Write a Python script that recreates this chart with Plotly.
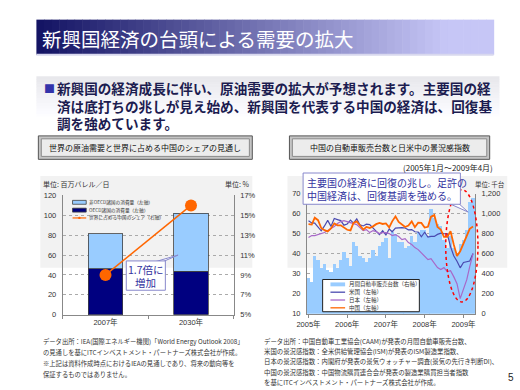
import plotly.graph_objects as go
import pandas as pd

W, H = 520, 390
JP = "Noto Sans CJK JP"
SANS = "Liberation Sans, Noto Sans CJK JP"


def px(x):
    return x / W


def py(y):
    return 1 - y / H


# ---------------- data: left chart ----------------
oil_categories = ["2007年", "2030年"]
oecd_demand = [46.2, 43.9]          # million barrels / day
non_oecd_demand = [35.1, 58.1]      # million barrels / day
china_share = [9.0, 16.0]           # %
oil_names = ["非OECD諸国の消費量（左軸）", "OECD諸国の消費量（左軸）", "世界に占める中国のシェア（右軸）"]
oil_left_ticks = [0, 20, 40, 60, 80, 100, 120]
oil_right_ticks = [5, 7, 9, 11, 13, 15, 17]

# ---------------- data: right chart ----------------
month_start = "2005-01-01"
china_auto_sales = [          # thousand units (right axis)
    360, 320, 580, 540, 460, 500, 440, 420, 500, 460, 540, 620,
    560, 480, 720, 680, 580, 560, 520, 560, 640, 580, 680, 720,
    760, 560, 820, 800, 720, 720, 660, 680, 780, 720, 820, 840,
    840, 780, 1050, 960, 900, 880, 740, 660, 780, 660, 600, 700,
    740, 840, 1120, 1160,
]
us_ism = [
    56.4, 55.3, 55.2, 53.3, 51.4, 53.8, 56.6, 53.6, 57.5, 57.0, 56.5, 54.2,
    54.8, 56.7, 55.2, 57.3, 54.4, 53.8, 54.7, 54.5, 52.9, 51.2, 49.5, 51.4,
    49.3, 52.3, 50.9, 52.7, 53.0, 53.0, 52.8, 51.9, 52.0, 50.9, 50.8, 48.4,
    50.7, 48.3, 48.6, 48.6, 49.6, 50.2, 50.0, 49.9, 43.5, 38.9, 36.2, 32.9,
    35.6, 35.8, 36.3, 40.1,
]
japan_watcher = [
    48.0, 49.0, 49.0, 49.5, 50.0, 50.5, 51.5, 52.5, 53.5, 55.0, 56.0, 56.5,
    56.0, 55.5, 55.0, 54.5, 53.0, 51.5, 52.0, 50.5, 51.5, 51.0, 50.0, 50.5,
    50.5, 50.0, 49.0, 49.5, 48.5, 47.0, 47.5, 45.5, 44.5, 43.0, 42.0, 40.5,
    38.5, 37.0, 37.5, 35.5, 33.0, 32.0, 33.0, 31.0, 31.5, 28.5, 25.0, 17.5,
    22.0, 27.0, 33.5, 40.0,
]
china_pmi = [
    54.7, 54.5, 57.9, 56.7, 52.8, 51.7, 51.1, 52.6, 55.1, 54.1, 54.1, 53.0,
    51.9, 51.6, 55.3, 56.1, 54.3, 52.0, 53.3, 52.8, 53.6, 54.7, 55.3, 54.8,
    55.1, 53.1, 56.1, 58.6, 55.8, 54.5, 53.3, 54.0, 56.1, 53.2, 55.4, 55.3,
    53.0, 53.4, 58.4, 59.2, 53.3, 52.0, 48.4, 48.4, 51.2, 44.6, 38.8, 41.2,
    45.3, 49.0, 52.4, 53.5,
]
auto_names = ["月間自動車販売台数（右軸）", "米国（左軸）", "日本（左軸）", "中国（左軸）"]
year_ticks = ["2005-01-01", "2006-01-01", "2007-01-01", "2008-01-01", "2009-01-01"]
year_labels = ["2005年", "2006年", "2007年", "2008年", "2009年"]
auto_left_ticks = [10, 20, 30, 40, 50, 60, 70]
auto_right_ticks = [0, 200, 400, 600, 800, 1000, 1200]

months = pd.date_range(month_start, periods=len(china_auto_sales), freq="MS")

# ---------------- colours ----------------
C_LIGHT = "#99ccff"
C_NAVY = "#000080"
C_ORANGE = "#ff6600"
C_US = "#4a4ab0"
C_JP = "#a868c8"
C_CALLOUT = "#3333a0"

fig = go.Figure()

# left chart traces
fig.add_trace(go.Bar(x=oil_categories, y=oecd_demand, name=oil_names[1], width=0.4,
                     marker=dict(color=C_NAVY, line=dict(color="#404040", width=0.8)),
                     xaxis="x", yaxis="y", showlegend=False))
fig.add_trace(go.Bar(x=oil_categories, y=non_oecd_demand, name=oil_names[0], width=0.4,
                     marker=dict(color=C_LIGHT, line=dict(color="#404040", width=0.8)),
                     xaxis="x", yaxis="y", showlegend=False))
fig.add_trace(go.Scatter(x=oil_categories, y=china_share, name=oil_names[2], mode="lines+markers",
                         line=dict(color=C_ORANGE, width=1.5), marker=dict(color=C_ORANGE, size=12),
                         xaxis="x", yaxis="y2", showlegend=False))

# right chart traces
fig.add_trace(go.Bar(x=months, y=china_auto_sales, name=auto_names[0], width=31 * 24 * 3600 * 1000,
                     marker=dict(color=C_LIGHT, line=dict(width=0)),
                     xaxis="x2", yaxis="y3", showlegend=False))
fig.add_trace(go.Scatter(x=months, y=us_ism, name=auto_names[1], mode="lines",
                         line=dict(color=C_US, width=1.2), xaxis="x2", yaxis="y4", showlegend=False))
fig.add_trace(go.Scatter(x=months, y=japan_watcher, name=auto_names[2], mode="lines",
                         line=dict(color=C_JP, width=1.2), xaxis="x2", yaxis="y4", showlegend=False))
fig.add_trace(go.Scatter(x=months, y=china_pmi, name=auto_names[3], mode="lines",
                         line=dict(color=C_ORANGE, width=1.8), xaxis="x2", yaxis="y4", showlegend=False))

tickfont = dict(family=SANS, size=7.5, color="#333333")
axcol = "#888888"

fig.update_layout(
    width=W, height=H, margin=dict(l=0, r=0, t=0, b=0),
    paper_bgcolor="white", plot_bgcolor="rgba(0,0,0,0)",
    barmode="stack", showlegend=False,
    xaxis=dict(domain=[px(53), px(228)], anchor="y", type="category", range=[-0.5, 1.5],
               showline=True, linecolor=axcol, ticks="outside", tickson="boundaries", ticklen=3,
               tickcolor=axcol, tickfont=tickfont, fixedrange=True),
    yaxis=dict(domain=[py(318), py(196)], anchor="x", range=[0, 120], tickvals=oil_left_ticks,
               showgrid=True, gridcolor="#aaaaaa", griddash="dot", gridwidth=1, zeroline=False,
               showline=True, linecolor=axcol, tickfont=tickfont, ticks="", ticklabelstandoff=4),
    yaxis2=dict(overlaying="y", side="right", anchor="x", range=[5, 17], tickvals=oil_right_ticks,
                ticktext=[f"{v}%" for v in oil_right_ticks], showgrid=False, zeroline=False,
                showline=True, linecolor=axcol, tickfont=tickfont, ticklabelstandoff=4),
    xaxis2=dict(domain=[px(303), px(475)], anchor="y3", type="date",
                range=["2004-12-18", "2009-04-20"], tickvals=year_ticks, ticktext=year_labels,
                showline=True, linecolor=axcol, ticks="outside", ticklen=3, tickcolor=axcol,
                tickfont=tickfont, showgrid=False),
    yaxis3=dict(domain=[py(317), py(194)], anchor="x2", side="right", range=[0, 1200],
                tickvals=auto_right_ticks, tickformat=",d", showgrid=False, zeroline=False,
                showline=True, linecolor=axcol, tickfont=tickfont, ticklabelstandoff=4),
    yaxis4=dict(overlaying="y3", anchor="x2", side="left", range=[10, 70], tickvals=auto_left_ticks,
                showgrid=True, gridcolor="#aaaaaa", griddash="dot", zeroline=False,
                showline=True, linecolor=axcol, tickfont=tickfont, ticklabelstandoff=4),
)

shapes = []
annotations = []


def rect(x0, y0, x1, y1, fill, line=None, lw=0, layer="above", dash=None):
    d = dict(type="rect", xref="paper", yref="paper", x0=px(x0), x1=px(x1), y0=py(y1), y1=py(y0),
             fillcolor=fill, layer=layer, line=dict(width=lw, color=line or fill))
    if dash:
        d["line"]["dash"] = dash
    shapes.append(d)


def text(x, y, s, size, color="#222222", xanchor="left", yanchor="middle", family=JP, align="left"):
    annotations.append(dict(x=px(x), y=py(y), xref="paper", yref="paper", text=s, showarrow=False,
                            xanchor=xanchor, yanchor=yanchor, align=align, borderpad=0,
                            font=dict(family=family, size=size, color=color)))


# title bar gradient
n = 60
x0, x1, xe = 26, 494, 440
for i in range(n):
    a = x0 + (x1 - x0) * i / n
    b = x0 + (x1 - x0) * (i + 1) / n + 0.6
    f = min(1.0, (a - x0) / (xe - x0))
    r = int(20 + (198 - 20) * f)
    g = int(20 + (198 - 20) * f)
    bl = int(100 + (246 - 100) * f)
    rect(a, 16, b, 52, f"rgb({r},{g},{bl})", layer="below")
rect(26, 51, 494, 53, "#d8d8ee", layer="below")
text(31, 35, "新興国経済の台頭による需要の拡大", 19.5, "white")

# bullet background gradient
m = 16
for i in range(m):
    ya = 74 + 44 * i / m
    yb = 74 + 44 * (i + 1) / m + 0.5
    f = i / (m - 1)
    c = int(232 + (255 - 232) * f)
    rect(26, ya, 500, yb, f"rgb({c},{c},{min(255, c + 4)})", layer="below")
text(33, 86, "■", 11, "#3333aa")
bullet_lines = ["新興国の経済成長に伴い、原油需要の拡大が予想されます。主要国の経",
                "済は底打ちの兆しが見え始め、新興国を代表する中国の経済は、回復基",
                "調を強めています。"]
for i, s in enumerate(bullet_lines):
    text(46, 86 + 18 * i, f"<b>{s}</b>", 13.6, "#1c1c50")

# buttons
for (bx0, bx1, label) in [(28, 247, "世界の原油需要と世界に占める中国のシェアの見通し"),
                          (285, 490, "中国の自動車販売台数と日米中の景況感指数")]:
    rect(bx0, 135, bx1, 159, "#c4c4c4", "#555555", 1, layer="below")
    rect(bx0 + 3, 138, bx1 - 3, 156, "#ececec", "#8a8a8a", 1, layer="below")
    text((bx0 + bx1) / 2, 147, label, 8, "#111111", xanchor="center")

# chart panels
rect(30, 176, 247, 270, "#f2f2f2", layer="below")
rect(283, 176, 508, 270, "#f2f2f2", layer="below")

# left chart texts
text(32, 184, "単位: 百万バレル／日", 7, "#333333")
text(246, 184, "単位: %", 7, "#333333", xanchor="right")

# left legend (manual)
rect(63, 201, 77, 205, C_LIGHT, "#404040", 0.8)
text(79, 203, oil_names[0], 4.7, "#333333")
rect(63, 209, 77, 213, C_NAVY, "#404040", 0.8)
text(79, 211, oil_names[1], 4.7, "#333333")
shapes.append(dict(type="line", xref="paper", yref="paper", x0=px(63), x1=px(77), y0=py(219), y1=py(219),
                   line=dict(color=C_ORANGE, width=1.2)))
shapes.append(dict(type="circle", xref="paper", yref="paper", x0=px(68.8), x1=px(71.2), y0=py(220.2),
                   y1=py(217.8), fillcolor=C_ORANGE, line=dict(width=0)))
text(79, 219, oil_names[2], 4.7, "#333333")

# 1.7x callout
shapes.append(dict(type="path", xref="paper", yref="paper",
                   path=f"M {px(147)},{py(264)} L {px(171)},{py(257)} L {px(155)},{py(264)} Z",
                   fillcolor="white", line=dict(color="#8888cc", width=1)))
rect(118, 263, 158, 293, "white", "#8888cc", 1)
text(138, 272, "1.7倍に", 10.5, C_CALLOUT, xanchor="center")
text(138, 285, "増加", 10.5, C_CALLOUT, xanchor="center")

# right chart texts
text(494, 167, "(2005年1月～2009年4月)", 8, "#222222", xanchor="right")
text(507, 184, "単位: 千台", 6.5, "#333333", xanchor="right")

# right legend (manual)
rect(319, 282, 418, 315, "white", "#222222", 1)
rect(327, 285, 342, 289, C_LIGHT)
text(345, 287, auto_names[0], 5.5, "#333333")
for yy, col, nm in [(295, C_US, auto_names[1]), (303, C_JP, auto_names[2]), (311, C_ORANGE, auto_names[3])]:
    shapes.append(dict(type="line", xref="paper", yref="paper", x0=px(327), x1=px(342), y0=py(yy), y1=py(yy),
                       line=dict(color=col, width=1.3)))
    text(345, yy, nm, 5.5, "#333333")

# red ellipse
shapes.append(dict(type="circle", xref="paper", yref="paper", x0=px(445), x1=px(478), y0=py(305), y1=py(190),
                   line=dict(color="#ff0000", width=1.5, dash="dot")))

# right callout
shapes.append(dict(type="path", xref="paper", yref="paper",
                   path=f"M {px(448)},{py(204)} L {px(468)},{py(213)} L {px(458)},{py(204)} Z",
                   fillcolor="white", line=dict(color="#8888cc", width=1)))
rect(299, 173, 460, 205, "white", "#8888cc", 1)
text(302, 183, "主要国の経済に回復の兆し。足許の", 10, C_CALLOUT)
text(302, 196, "中国経済は、回復基調を強める。", 10, C_CALLOUT)

# notes
left_notes = ["データ出所：IEA(国際エネルギー機関)「World Energy Outlook 2008」",
              "の見通しを基にITCインベストメント・パートナーズ株式会社が作成。",
              "※上記は資料作成時点におけるIEAの見通しであり、将来の動向等を",
              "保証するものではありません。"]
for i, s in enumerate(left_notes):
    text(32, 345 + 11.3 * i, s, 6.3, "#333333")
right_notes = ["データ出所：中国自動車工業協会(CAAM)が発表の月間自動車販売台数、",
               "米国の景況感指数：全米供給管理協会(ISM)が発表のISM製造業指数、",
               "日本の景況感指数：内閣府が発表の景気ウォッチャー調査(景気の先行き判断DI)、",
               "中国の景況感指数：中国物流購買連合会が発表の製造業購買担当者指数",
               "を基にITCインベストメント・パートナーズ株式会社が作成。"]
for i, s in enumerate(right_notes):
    text(258, 345 + 10.7 * i, s, 6.4, "#333333")
text(512, 382, "5", 10, "#222222", xanchor="center", family=SANS)

fig.update_layout(shapes=shapes, annotations=annotations)
fig.write_html("out.html", config={"displayModeBar": False},
               post_script="document.body.style.margin='0';document.body.style.overflow='hidden';")
